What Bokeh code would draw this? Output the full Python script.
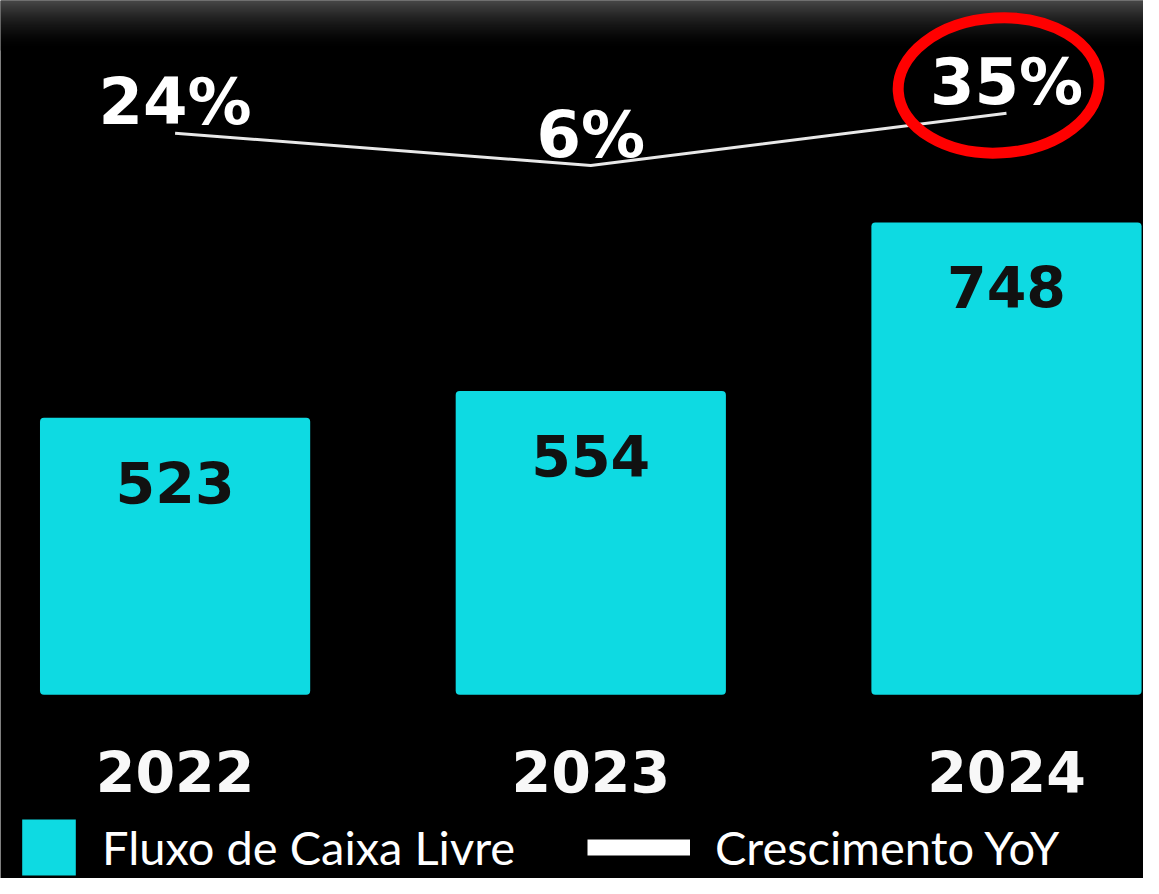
import numpy as np
from bokeh.plotting import figure
from bokeh.models import ColumnDataSource, Range1d, Legend, LegendItem
from bokeh.core.properties import value
from bokeh.embed import file_html
from bokeh.resources import INLINE

# ---- data ----
years = ["2022", "2023", "2024"]
fcf = [523, 554, 748]
growth = [24, 6, 35]
growth_labels = ["24%", "6%", "35%"]
fcf_labels = [str(v) for v in fcf]
axis_min = 204  # value axis starts here (bars grow from it)

W, H = 1143, 878
BAR = "#0edae2"
NUM_FONT = "DejaVu Sans"

src = ColumnDataSource(dict(x=list(range(len(years))), year=years, fcf=fcf,
                            fcf_label=fcf_labels, growth=growth,
                            growth_label=growth_labels))

X0, X1 = -0.42, 2.3296
Y0, Y1 = -7.6, 1003.7
p = figure(width=W, height=H, output_backend="svg", toolbar_location=None,
           x_range=Range1d(X0, X1), y_range=Range1d(Y0, Y1),
           x_axis_type=None, y_axis_type=None, min_border=0,
           background_fill_color="black", border_fill_color="black",
           outline_line_color=None)
p.grid.visible = False
p.extra_y_ranges = {"growth": Range1d(-390.1, 97.7)}

# top grey gradient band
n = 50
t = np.linspace(1, 0, n)  # bottom row -> top row
g = (74 * (1 - t) ** 1.7).astype(np.uint32)
img = np.zeros((n, 1), dtype=np.uint32)
img[:, 0] = (255 << 24) | (g << 16) | (g << 8) | g
band_h = n / 0.8682
p.image_rgba(image=[img], x=X0, y=Y1 - band_h, dw=X1 - X0, dh=band_h)

bars = p.vbar(x="x", top="fcf", bottom=axis_min, width=0.65, source=src,
              fill_color=BAR, line_color=None, border_radius=4)

p.text(x="x", y="fcf", text="fcf_label", source=src, text_align="center",
       text_baseline="middle", y_offset=65, text_font=value(NUM_FONT),
       text_font_style="bold", text_font_size="57px", text_color="#111111")

p.text(x="x", y=axis_min, text="year", source=src, text_align="center",
       text_baseline="middle", y_offset=77, text_font=value(NUM_FONT),
       text_font_style="bold", text_font_size="57px", text_color="#f8f8f8")

p.line(x="x", y="growth", source=src, y_range_name="growth",
       line_color="#e8e8e8", line_width=3)

p.text(x="x", y="growth", text="growth_label", source=src,
       y_range_name="growth", text_align="center", text_baseline="middle",
       y_offset=-31, text_font=value(NUM_FONT), text_font_style="bold",
       text_font_size="64px", text_color="#ffffff")

# red highlight around the last growth value
p.ellipse(x=[2 - 0.019], y=[growth[2] + 15.5], width=201, height=135,
          width_units="screen", height_units="screen", angle=0.06,
          y_range_name="growth", fill_alpha=0, line_color="#ff0000",
          line_width=11)

# legend-only line sample (thick)
leg_line = p.line(x=[np.nan], y=[np.nan], line_color="white", line_width=16)

common = dict(label_text_font="Lato", label_text_font_size="47px",
              label_text_color="white", background_fill_alpha=0,
              border_line_color=None, padding=0, margin=0, spacing=0,
              glyph_height=70)
leg1 = Legend(items=[LegendItem(label="Fluxo de Caixa Livre", renderers=[bars])],
              location=(15, -4), glyph_width=67, label_standoff=20, **common)
leg2 = Legend(items=[LegendItem(label="Crescimento YoY", renderers=[leg_line])],
              location=(587, -4), glyph_width=103, label_standoff=25, **common)
p.add_layout(leg1)
p.add_layout(leg2)

open("out.html", "w").write(file_html(p, INLINE))
